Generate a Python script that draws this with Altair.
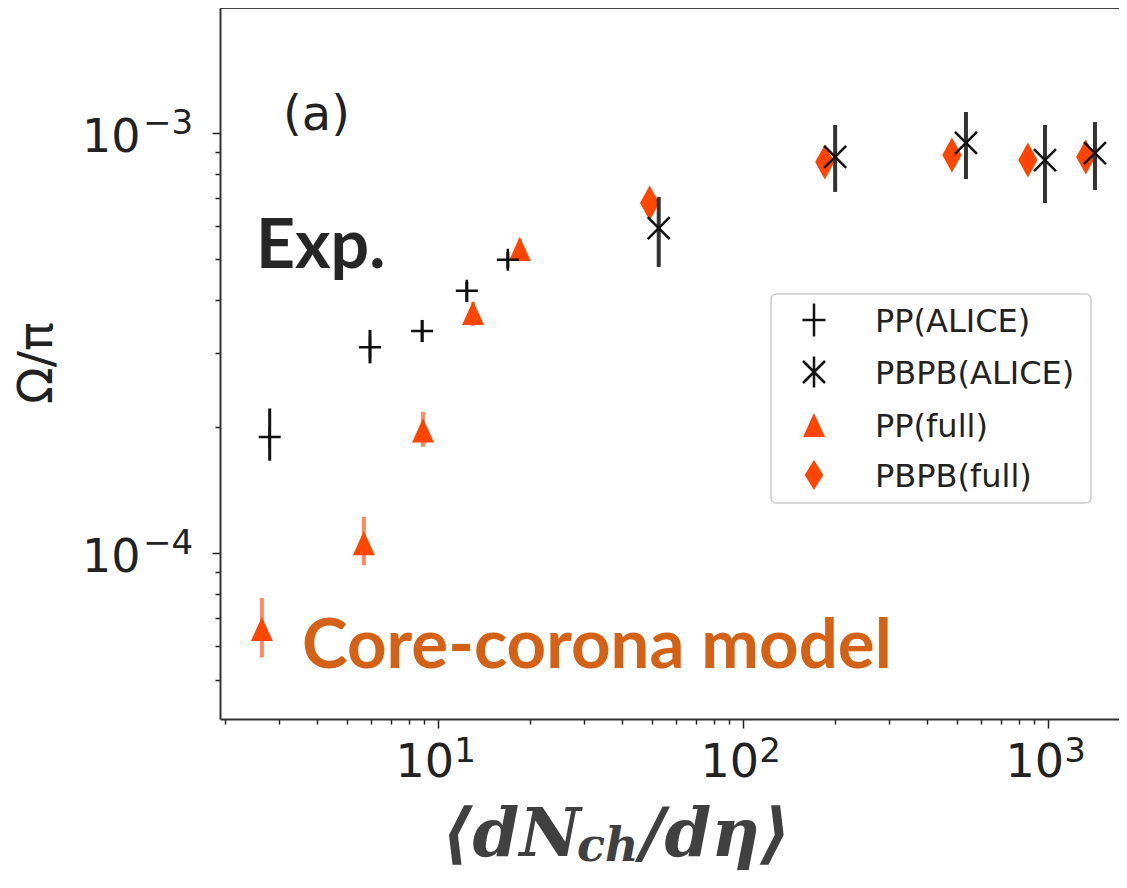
import altair as alt
import pandas as pd

# ---------------- data ----------------
pp_alice_x = [2.80, 5.97, 8.85, 12.4, 16.9]
pp_alice_y = [1.89e-4, 3.09e-4, 3.38e-4, 4.21e-4, 4.99e-4]
pp_alice_lo = [1.66e-4, 2.83e-4, 3.18e-4, 3.96e-4, 4.77e-4]
pp_alice_hi = [2.21e-4, 3.40e-4, 3.59e-4, 4.42e-4, 5.21e-4]

pbpb_alice_x = [52.8, 200, 537, 975, 1422]
pbpb_alice_y = [5.94e-4, 8.77e-4, 9.47e-4, 8.62e-4, 8.96e-4]
pbpb_alice_lo = [4.80e-4, 7.24e-4, 7.77e-4, 6.81e-4, 7.32e-4]
pbpb_alice_hi = [7.04e-4, 1.045e-3, 1.122e-3, 1.045e-3, 1.062e-3]

pp_full_x = [2.64, 5.70, 8.91, 13.0, 18.5]
pp_full_y = [6.6e-5, 1.057e-4, 1.96e-4, 3.73e-4, 5.30e-4]
pp_full_lo = [5.65e-5, 9.36e-5, 1.79e-4, 3.47e-4, 5.0e-4]
pp_full_hi = [7.82e-5, 1.22e-4, 2.17e-4, 3.96e-4, 5.6e-4]

pbpb_full_x = [49.3, 185, 483, 857, 1327]
pbpb_full_y = [6.81e-4, 8.53e-4, 8.87e-4, 8.62e-4, 8.77e-4]

legend_labels = ["PP(ALICE)", "PBPB(ALICE)", "PP(full)", "PBPB(full)"]

x_ticks = [2, 3, 4, 5, 6, 7, 8, 9, 10, 20, 30, 40, 50, 60, 70, 80, 90,
           100, 200, 300, 400, 500, 600, 700, 800, 900, 1000]
y_ticks = [5e-5, 6e-5, 7e-5, 8e-5, 9e-5, 1e-4, 2e-4, 3e-4, 4e-4, 5e-4,
           6e-4, 7e-4, 8e-4, 9e-4, 1e-3]
x_major = [10, 100, 1000]
x_exp = ["1", "2", "3"]
y_major = [1e-4, 1e-3]
y_exp = ["\u22124", "\u22123"]

# ---------------- layout / style ----------------
W, H = 899, 711
X_DOM = [1.924, 1705]
Y_DOM = [4.03e-5, 1.984e-3]
ORANGE = "#FF4500"
ORANGE_ERR = "#FF7A50"
DARK = "#222222"

PLUS = "M-1,0L1,0M0,-1L0,1"
XMARK = "M-1,-1L1,1M-1,1L1,-1"
TRI = "M0,-1.1L1,1.1L-1,1.1Z"
DIAM = "M0,-1L0.55,0L0,1L-0.55,0Z"

is_major = "abs(log(datum.value)/LN10 - round(log(datum.value)/LN10)) < 0.001"

xs = alt.Scale(type="log", domain=X_DOM, nice=False)
ys = alt.Scale(type="log", domain=Y_DOM, nice=False)

x_axis = alt.Axis(values=x_ticks, title=None, labelExpr=f"{is_major} ? '10' : ''",
                  tickSize={"condition": {"test": is_major, "value": 9}, "value": 5},
                  labelOverlap=False, labelFlush=False, grid=False,
                  labelFont="DejaVu Sans", labelFontSize=46, labelColor=DARK,
                  labelOffset=-14, labelPadding=12,
                  domainColor="#333333", domainWidth=2, tickColor="#222222", tickWidth=1.5)
y_axis = alt.Axis(values=y_ticks, title=None, labelExpr=f"{is_major} ? '10' : ''",
                  tickSize={"condition": {"test": is_major, "value": 8}, "value": 5},
                  labelOverlap=False, labelFlush=False, grid=False,
                  labelFont="DejaVu Sans", labelFontSize=46, labelColor=DARK,
                  labelOffset=4, labelPadding=72, labelAlign="right", labelBaseline="middle",
                  domainColor="#333333", domainWidth=2, tickColor="#222222", tickWidth=1.5)


def X(f):
    return alt.X(f, type="quantitative", scale=xs, axis=x_axis)


def Y(f):
    return alt.Y(f, type="quantitative", scale=ys, axis=y_axis)


df_ppa = pd.DataFrame({"x": pp_alice_x, "y": pp_alice_y, "lo": pp_alice_lo, "hi": pp_alice_hi})
df_pba = pd.DataFrame({"x": pbpb_alice_x, "y": pbpb_alice_y, "lo": pbpb_alice_lo, "hi": pbpb_alice_hi})
df_ppf = pd.DataFrame({"x": pp_full_x, "y": pp_full_y, "lo": pp_full_lo, "hi": pp_full_hi})
df_pbf = pd.DataFrame({"x": pbpb_full_x, "y": pbpb_full_y})
one = pd.DataFrame({"k": [0]})

layers = []
# orange model points
layers.append(alt.Chart(df_ppf).mark_rule(color=ORANGE_ERR, strokeWidth=4, opacity=0.9)
              .encode(x=X("x"), y=Y("lo"), y2="hi"))
layers.append(alt.Chart(df_ppf).mark_point(shape=TRI, size=484, filled=True, color=ORANGE, opacity=1)
              .encode(x=X("x"), y=Y("y")))
layers.append(alt.Chart(df_pbf).mark_point(shape=DIAM, size=1225, filled=True, color=ORANGE, opacity=1)
              .encode(x=X("x"), y=Y("y")))
# experimental points
layers.append(alt.Chart(df_ppa).mark_rule(color="#111111", strokeWidth=3)
              .encode(x=X("x"), y=Y("lo"), y2="hi"))
layers.append(alt.Chart(df_ppa).mark_point(shape=PLUS, size=484, filled=False, color="#111111",
                                           strokeWidth=2.5, opacity=1)
              .encode(x=X("x"), y=Y("y")))
layers.append(alt.Chart(df_pba).mark_rule(color="#333333", strokeWidth=4)
              .encode(x=X("x"), y=Y("lo"), y2="hi"))
layers.append(alt.Chart(df_pba).mark_point(shape=XMARK, size=484, filled=False, color="#111111",
                                           strokeWidth=2.5, opacity=1)
              .encode(x=X("x"), y=Y("y")))

# exponent parts of tick labels
layers.append(alt.Chart(pd.DataFrame({"v": x_major, "t": x_exp}))
              .mark_text(align="left", baseline="middle", font="DejaVu Sans", fontSize=34, dx=16, color=DARK)
              .encode(x=X("v"), y=alt.value(744), text="t:N"))
layers.append(alt.Chart(pd.DataFrame({"v": y_major, "t": y_exp}))
              .mark_text(align="left", baseline="middle", font="DejaVu Sans", fontSize=34, dy=-9, color=DARK)
              .encode(y=Y("v"), x=alt.value(-77), text="t:N"))

# top frame line
layers.append(alt.Chart(one).mark_rule(color="#444444", strokeWidth=2)
              .encode(x=alt.value(0), x2=alt.value(W), y=alt.value(0)))


def txt(text, x, y, **kw):
    return alt.Chart(one).mark_text(text=text, **kw).encode(x=alt.value(x), y=alt.value(y))


# annotations
layers.append(txt("(a)", 63, 122, align="left", baseline="alphabetic", font="DejaVu Sans",
                  fontSize=48, color=DARK))
layers.append(txt("Exp.", 36, 260, align="left", baseline="alphabetic", font="Lato",
                  fontSize=68, fontWeight="bold", color="#262626"))
layers.append(txt("Core-corona model", 82, 660, align="left", baseline="alphabetic", font="Lato",
                  fontSize=69, fontWeight="bold", color="#D46216"))

# axis titles
layers.append(txt("\u03a9/\u03c0", -182, 355, align="center", baseline="middle", angle=270,
                  font="DejaVu Sans", fontSize=48, color=DARK))
layers.append(txt("\u27e8dN", 222, 848, align="left", baseline="alphabetic", font="DejaVu Serif",
                  fontSize=67, fontWeight="bold", fontStyle="italic", color="#404040"))
layers.append(txt("ch", 357, 853, align="left", baseline="alphabetic", font="DejaVu Serif",
                  fontSize=46, fontWeight="bold", fontStyle="italic", color="#404040"))
layers.append(txt("/d\u03b7\u27e9", 420, 848, align="left", baseline="alphabetic", font="DejaVu Serif",
                  fontSize=67, fontWeight="bold", fontStyle="italic", color="#404040"))

# legend
layers.append(alt.Chart(one).mark_rect(cornerRadius=5, fill="white", stroke="#cccccc", strokeWidth=1.5)
              .encode(x=alt.value(551), x2=alt.value(871), y=alt.value(286), y2=alt.value(495)))
LEG_X, LEG_TX = 594, 655
rows = [312, 364, 417, 467]
leg_shapes = [
    dict(shape="M-0.7,0L0.7,0M0,-1L0,1", size=1089, filled=False, color="#111111", strokeWidth=2.5),
    dict(shape="M-1,-1L1,1M-1,1L1,-1M0,-1.4L0,1.4", size=484, filled=False, color="#111111", strokeWidth=2.5),
    dict(shape=TRI, size=484, filled=True, color=ORANGE),
    dict(shape="M0,-1L0.62,0L0,1L-0.62,0Z", size=900, filled=True, color=ORANGE),
]
for lab, ry, sh in zip(legend_labels, rows, leg_shapes):
    layers.append(alt.Chart(one).mark_point(opacity=1, **sh).encode(x=alt.value(LEG_X), y=alt.value(ry)))
    layers.append(txt(lab, LEG_TX, ry + 2, align="left", baseline="middle", font="DejaVu Sans",
                      fontSize=32, color=DARK))

chart = alt.layer(*layers).properties(
    width=W, height=H, autosize="none",
    padding={"left": 212, "top": 0, "right": 0, "bottom": 155},
).configure_view(stroke=None).configure(background="white")

chart.save("out.html", embed_options={"renderer": "svg", "actions": False})
